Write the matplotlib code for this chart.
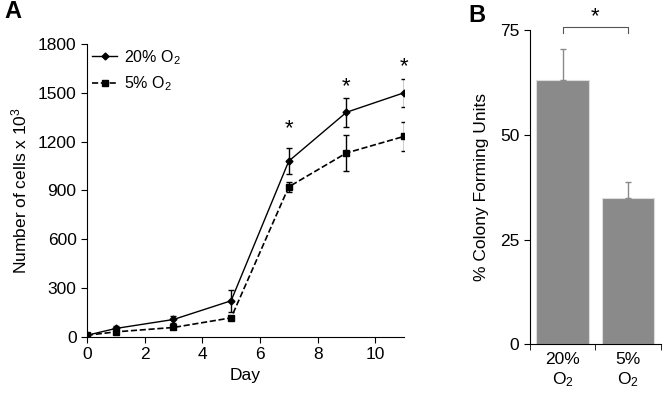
import matplotlib
matplotlib.use('Agg')
import matplotlib.pyplot as plt

plt.rcParams['font.family'] = ['Liberation Sans', 'DejaVu Sans']
plt.rcParams['mathtext.fontset'] = 'custom'
plt.rcParams['mathtext.rm'] = 'Liberation Sans'
plt.rcParams['mathtext.default'] = 'regular'
plt.rcParams['font.size'] = 12.5

# panel A: growth curves
days = [0, 1, 3, 5, 7, 9, 11]
cells_20 = [10, 52, 107, 222, 1080, 1380, 1500]
err_20 = [8, 12, 20, 68, 80, 88, 86]
cells_5 = [10, 31, 58, 117, 922, 1130, 1232]
err_5 = [6, 8, 10, 12, 32, 108, 90]
star_days = [7, 9, 11]
star_y = [1280, 1535, 1660]

# panel B: CFU
cfu_labels = ['20%\nO$_2$', '5%\nO$_2$']
cfu_values = [63.0, 35.0]
cfu_err = [7.6, 3.8]

fig = plt.figure(figsize=(6.69, 4.03), dpi=100)

ax = fig.add_axes([0.130, 0.164, 0.474, 0.727])
c20 = ax.errorbar(days, cells_20, yerr=err_20, color='black', lw=1, marker='D', ms=3.5,
                  capsize=2.5, elinewidth=1)
c5 = ax.errorbar(days, cells_5, yerr=err_5, color='black', lw=1.2, ls='--', marker='s', ms=4.5,
                 capsize=2.5, elinewidth=1)
for d, y in zip(star_days, star_y):
    ax.text(d, y, '*', ha='center', va='center', fontsize=16)
ax.set_xlim(0, 11)
ax.set_ylim(0, 1800)
ax.set_xticks(range(0, 11, 2))
ax.set_yticks(range(0, 1801, 300))
ax.spines['top'].set_visible(False)
ax.spines['right'].set_visible(False)
ax.set_xlabel('Day')
ax.set_ylabel('Number of cells x 10$^3$', labelpad=6)
ax.tick_params(direction='out', length=4)
ax.legend([c20[0], c5[0]], ['20% O$_2$', '5% O$_2$'], loc='upper left',
          bbox_to_anchor=(-0.03, 1.035), frameon=False, fontsize=11.5,
          handlelength=1.6, handletextpad=0.4, labelspacing=0.5)
ax.text(-0.259, 1.15, 'A', transform=ax.transAxes, fontsize=17, fontweight='bold', va='top')

# panel B
bx = fig.add_axes([0.792, 0.146, 0.196, 0.779])
xs = [0, 1]
bx.bar(xs, cfu_values, width=0.8, color='#8a8a8a', edgecolor='#dddddd', lw=0.8)
bx.errorbar(xs, cfu_values, yerr=[[0, 0], cfu_err], fmt='none', ecolor='#8a8a8a',
            elinewidth=1, capsize=2.5)
bx.set_xlim(-0.5, 1.5)
bx.set_ylim(0, 75)
bx.set_yticks([0, 25, 50, 75])
bx.set_xticks(xs)
bx.set_xticklabels(cfu_labels)
bx.set_xticks([-0.5, 0.5, 1.5], minor=True)
bx.tick_params(axis='x', which='major', length=0, pad=6)
bx.tick_params(axis='x', which='minor', length=4, direction='out')
bx.tick_params(axis='y', direction='out', length=4)
bx.spines['top'].set_visible(False)
bx.spines['right'].set_visible(False)
bx.set_ylabel('% Colony Forming Units', labelpad=8)
bx.plot([0, 0, 1, 1], [74.3, 75.7, 75.7, 74.3], color='#555555', lw=0.8, clip_on=False)
bx.text(0.5, 78.3, '*', ha='center', va='center', fontsize=16, clip_on=False)
bx.text(-0.47, 1.085, 'B', transform=bx.transAxes, fontsize=17, fontweight='bold', va='top')

fig.savefig('out.png', dpi=100)
